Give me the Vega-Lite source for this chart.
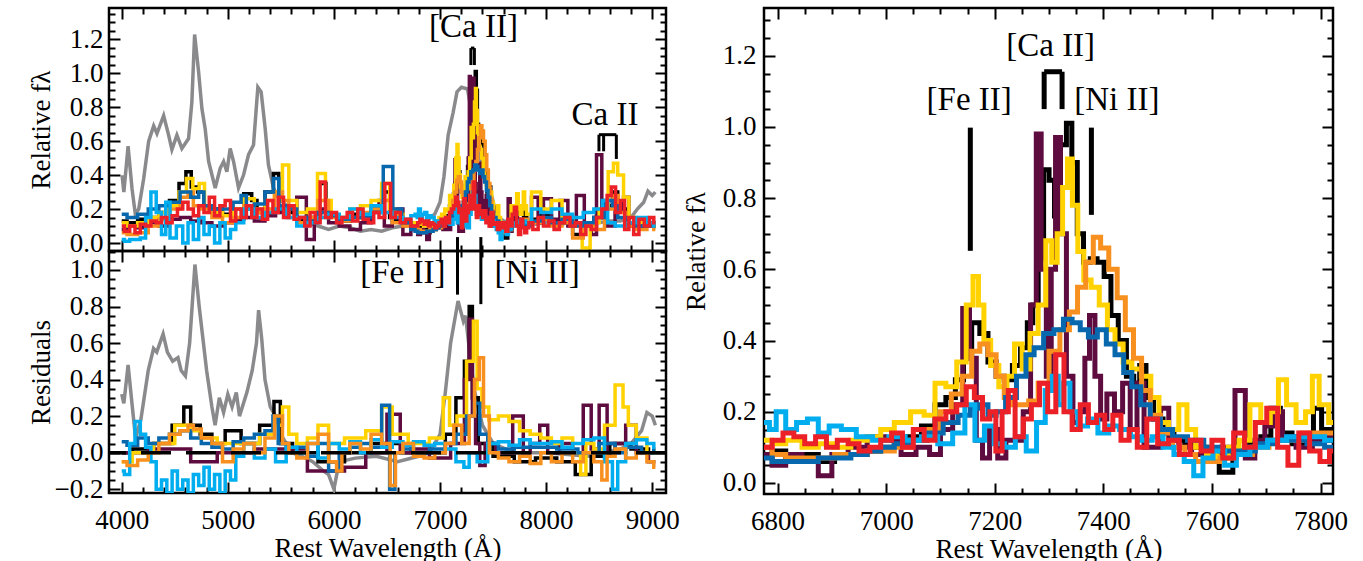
{
"$schema": "https://vega.github.io/schema/vega-lite/v6.json",
"padding": {"left": 25, "top": 5, "right": 5, "bottom": 0},
"config": {
  "view": {"stroke": "black", "strokeWidth": 2.5},
  "font": "Liberation Serif",
  "axis": {"domain": false, "grid": false, "labelFont": "Liberation Serif", "labelFontSize": 27, "labelColor": "black", "titleFont": "Liberation Serif", "titleFontSize": 27, "titleFontWeight": "normal", "titleColor": "black", "tickColor": "black", "tickWidth": 2, "labelOverlap": false, "labelFlush": false}
},
"datasets": {
"spec": [
{"s":"g","x":4003,"y":0.4},{"s":"g","x":4020,"y":0.3},{"s":"g","x":4060,"y":0.57},{"s":"g","x":4097,"y":0.32},{"s":"g","x":4128,"y":0.17},{"s":"g","x":4160,"y":0.2},{"s":"g","x":4207,"y":0.38},{"s":"g","x":4254,"y":0.6},{"s":"g","x":4301,"y":0.69},{"s":"g","x":4332,"y":0.645},{"s":"g","x":4395,"y":0.75},{"s":"g","x":4442,"y":0.635},{"s":"g","x":4473,"y":0.55},{"s":"g","x":4520,"y":0.635},{"s":"g","x":4567,"y":0.557},{"s":"g","x":4630,"y":0.615},{"s":"g","x":4661,"y":0.83},{"s":"g","x":4687,"y":1.228},{"s":"g","x":4725,"y":1.005},{"s":"g","x":4756,"y":0.79},{"s":"g","x":4787,"y":0.67},{"s":"g","x":4819,"y":0.48},{"s":"g","x":4881,"y":0.324},{"s":"g","x":4928,"y":0.44},{"s":"g","x":4960,"y":0.48},{"s":"g","x":4991,"y":0.42},{"s":"g","x":5022,"y":0.557},{"s":"g","x":5054,"y":0.48},{"s":"g","x":5101,"y":0.324},{"s":"g","x":5148,"y":0.4},{"s":"g","x":5195,"y":0.52},{"s":"g","x":5242,"y":0.577},{"s":"g","x":5283,"y":0.917},{"s":"g","x":5314,"y":0.89},{"s":"g","x":5352,"y":0.674},{"s":"g","x":5383,"y":0.46},{"s":"g","x":5430,"y":0.324},{"s":"g","x":5477,"y":0.266},{"s":"g","x":5571,"y":0.21},{"s":"g","x":5650,"y":0.15},{"s":"g","x":5750,"y":0.12},{"s":"g","x":5850,"y":0.1},{"s":"g","x":5950,"y":0.08},{"s":"g","x":6050,"y":0.1},{"s":"g","x":6150,"y":0.09},{"s":"g","x":6250,"y":0.07},{"s":"g","x":6350,"y":0.08},{"s":"g","x":6450,"y":0.07},{"s":"g","x":6550,"y":0.09},{"s":"g","x":6650,"y":0.1},{"s":"g","x":6750,"y":0.1},{"s":"g","x":6850,"y":0.12},{"s":"g","x":6950,"y":0.17},{"s":"g","x":7000,"y":0.24},{"s":"g","x":7037,"y":0.39},{"s":"g","x":7077,"y":0.636},{"s":"g","x":7124,"y":0.77},{"s":"g","x":7160,"y":0.89},{"s":"g","x":7202,"y":0.917},{"s":"g","x":7259,"y":0.907},{"s":"g","x":7281,"y":0.83},{"s":"g","x":7320,"y":0.7},{"s":"g","x":7360,"y":0.55},{"s":"g","x":7400,"y":0.45},{"s":"g","x":7440,"y":0.37},{"s":"g","x":7485,"y":0.285},{"s":"g","x":7532,"y":0.16},{"s":"g","x":7600,"y":0.13},{"s":"g","x":7700,"y":0.12},{"s":"g","x":7800,"y":0.12},{"s":"g","x":7900,"y":0.11},{"s":"g","x":8000,"y":0.12},{"s":"g","x":8100,"y":0.1},{"s":"g","x":8200,"y":0.12},{"s":"g","x":8300,"y":0.1},{"s":"g","x":8400,"y":0.11},{"s":"g","x":8500,"y":0.12},{"s":"g","x":8600,"y":0.13},{"s":"g","x":8700,"y":0.13},{"s":"g","x":8800,"y":0.15},{"s":"g","x":8860,"y":0.2},{"s":"g","x":8920,"y":0.24},{"s":"g","x":8960,"y":0.305},{"s":"g","x":9000,"y":0.28},{"s":"g","x":9030,"y":0.3},
{"s":"k","x":4000,"y":0.13},{"s":"k","x":4100,"y":0.12},{"s":"k","x":4200,"y":0.14},{"s":"k","x":4300,"y":0.15},{"s":"k","x":4400,"y":0.18},{"s":"k","x":4500,"y":0.25},{"s":"k","x":4580,"y":0.35},{"s":"k","x":4630,"y":0.42},{"s":"k","x":4680,"y":0.33},{"s":"k","x":4750,"y":0.3},{"s":"k","x":4800,"y":0.22},{"s":"k","x":4900,"y":0.2},{"s":"k","x":5000,"y":0.17},{"s":"k","x":5100,"y":0.2},{"s":"k","x":5200,"y":0.29},{"s":"k","x":5250,"y":0.25},{"s":"k","x":5300,"y":0.18},{"s":"k","x":5400,"y":0.3},{"s":"k","x":5460,"y":0.41},{"s":"k","x":5500,"y":0.2},{"s":"k","x":5600,"y":0.18},{"s":"k","x":5700,"y":0.14},{"s":"k","x":5800,"y":0.15},{"s":"k","x":5900,"y":0.35},{"s":"k","x":5950,"y":0.2},{"s":"k","x":6000,"y":0.16},{"s":"k","x":6100,"y":0.13},{"s":"k","x":6200,"y":0.17},{"s":"k","x":6300,"y":0.15},{"s":"k","x":6400,"y":0.2},{"s":"k","x":6500,"y":0.3},{"s":"k","x":6550,"y":0.15},{"s":"k","x":6600,"y":0.14},{"s":"k","x":6700,"y":0.12},{"s":"k","x":6750,"y":0.1},
{"s":"k","x":6780,"y":0.08},{"s":"k","x":6800,"y":0.09},{"s":"k","x":6830,"y":0.07},{"s":"k","x":6860,"y":0.08},{"s":"k","x":6890,"y":0.06},{"s":"k","x":6920,"y":0.08},{"s":"k","x":6950,"y":0.08},{"s":"k","x":6980,"y":0.09},{"s":"k","x":7000,"y":0.1},{"s":"k","x":7030,"y":0.11},{"s":"k","x":7050,"y":0.13},{"s":"k","x":7080,"y":0.16},{"s":"k","x":7100,"y":0.22},{"s":"k","x":7120,"y":0.24},{"s":"k","x":7135,"y":0.29},{"s":"k","x":7150,"y":0.35},{"s":"k","x":7165,"y":0.45},{"s":"k","x":7180,"y":0.42},{"s":"k","x":7195,"y":0.34},{"s":"k","x":7210,"y":0.3},{"s":"k","x":7225,"y":0.29},{"s":"k","x":7240,"y":0.33},{"s":"k","x":7255,"y":0.38},{"s":"k","x":7265,"y":0.45},{"s":"k","x":7275,"y":0.5},{"s":"k","x":7285,"y":0.63},{"s":"k","x":7295,"y":0.88},{"s":"k","x":7305,"y":0.85},{"s":"k","x":7315,"y":0.75},{"s":"k","x":7327,"y":0.95},{"s":"k","x":7337,"y":1.01},{"s":"k","x":7347,"y":0.9},{"s":"k","x":7357,"y":0.7},{"s":"k","x":7370,"y":0.62},{"s":"k","x":7382,"y":0.63},{"s":"k","x":7395,"y":0.62},{"s":"k","x":7408,"y":0.58},{"s":"k","x":7420,"y":0.47},{"s":"k","x":7435,"y":0.4},{"s":"k","x":7450,"y":0.3},{"s":"k","x":7462,"y":0.28},{"s":"k","x":7472,"y":0.33},{"s":"k","x":7485,"y":0.24},{"s":"k","x":7500,"y":0.18},{"s":"k","x":7520,"y":0.14},{"s":"k","x":7540,"y":0.12},{"s":"k","x":7560,"y":0.11},{"s":"k","x":7580,"y":0.1},{"s":"k","x":7600,"y":0.08},{"s":"k","x":7627,"y":0.03},{"s":"k","x":7650,"y":0.09},{"s":"k","x":7680,"y":0.11},{"s":"k","x":7700,"y":0.13},{"s":"k","x":7717,"y":0.21},{"s":"k","x":7735,"y":0.14},{"s":"k","x":7760,"y":0.11},{"s":"k","x":7780,"y":0.13},{"s":"k","x":7794,"y":0.21},{"s":"k","x":7810,"y":0.15},{"s":"k","x":7825,"y":0.12},
{"s":"k","x":7900,"y":0.14},{"s":"k","x":8000,"y":0.16},{"s":"k","x":8100,"y":0.12},{"s":"k","x":8200,"y":0.13},{"s":"k","x":8300,"y":0.05},{"s":"k","x":8400,"y":0.12},{"s":"k","x":8500,"y":0.15},{"s":"k","x":8600,"y":0.22},{"s":"k","x":8650,"y":0.3},{"s":"k","x":8700,"y":0.2},{"s":"k","x":8800,"y":0.12},{"s":"k","x":8900,"y":0.1},{"s":"k","x":9000,"y":0.12},{"s":"k","x":9030,"y":0.1},
{"s":"p","x":4000,"y":0.08},{"s":"p","x":4100,"y":0.1},{"s":"p","x":4200,"y":0.09},{"s":"p","x":4300,"y":0.12},{"s":"p","x":4400,"y":0.1},{"s":"p","x":4500,"y":0.14},{"s":"p","x":4600,"y":0.15},{"s":"p","x":4700,"y":0.13},{"s":"p","x":4800,"y":0.12},{"s":"p","x":4900,"y":0.1},{"s":"p","x":5000,"y":0.12},{"s":"p","x":5100,"y":0.14},{"s":"p","x":5200,"y":0.15},{"s":"p","x":5300,"y":0.13},{"s":"p","x":5400,"y":0.16},{"s":"p","x":5500,"y":0.18},{"s":"p","x":5600,"y":0.2},{"s":"p","x":5700,"y":0.27},{"s":"p","x":5780,"y":0.02},{"s":"p","x":5850,"y":0.15},{"s":"p","x":5900,"y":0.2},{"s":"p","x":6000,"y":0.12},{"s":"p","x":6100,"y":0.1},{"s":"p","x":6200,"y":0.08},{"s":"p","x":6300,"y":0.12},{"s":"p","x":6400,"y":0.2},{"s":"p","x":6450,"y":0.25},{"s":"p","x":6500,"y":0.1},{"s":"p","x":6600,"y":0.2},{"s":"p","x":6700,"y":0.05},{"s":"p","x":6750,"y":0.08},
{"s":"p","x":6780,"y":0.08},{"s":"p","x":6800,"y":0.05},{"s":"p","x":6830,"y":0.08},{"s":"p","x":6860,"y":0.06},{"s":"p","x":6890,"y":0.02},{"s":"p","x":6910,"y":0.08},{"s":"p","x":6950,"y":0.1},{"s":"p","x":6980,"y":0.13},{"s":"p","x":7015,"y":0.12},{"s":"p","x":7040,"y":0.08},{"s":"p","x":7070,"y":0.1},{"s":"p","x":7090,"y":0.08},{"s":"p","x":7110,"y":0.15},{"s":"p","x":7135,"y":0.22},{"s":"p","x":7147,"y":0.49},{"s":"p","x":7160,"y":0.35},{"s":"p","x":7172,"y":0.12},{"s":"p","x":7183,"y":0.07},{"s":"p","x":7198,"y":0.15},{"s":"p","x":7213,"y":0.07},{"s":"p","x":7228,"y":0.12},{"s":"p","x":7245,"y":0.12},{"s":"p","x":7260,"y":0.2},{"s":"p","x":7272,"y":0.5},{"s":"p","x":7281,"y":0.98},{"s":"p","x":7290,"y":0.6},{"s":"p","x":7300,"y":0.3},{"s":"p","x":7308,"y":0.6},{"s":"p","x":7316,"y":0.97},{"s":"p","x":7326,"y":0.7},{"s":"p","x":7338,"y":0.3},{"s":"p","x":7350,"y":0.17},{"s":"p","x":7362,"y":0.2},{"s":"p","x":7370,"y":0.35},{"s":"p","x":7379,"y":0.47},{"s":"p","x":7390,"y":0.3},{"s":"p","x":7400,"y":0.18},{"s":"p","x":7413,"y":0.25},{"s":"p","x":7428,"y":0.2},{"s":"p","x":7443,"y":0.28},{"s":"p","x":7456,"y":0.15},{"s":"p","x":7468,"y":0.28},{"s":"p","x":7482,"y":0.1},{"s":"p","x":7498,"y":0.1},{"s":"p","x":7513,"y":0.21},{"s":"p","x":7528,"y":0.12},{"s":"p","x":7550,"y":0.1},{"s":"p","x":7575,"y":0.08},{"s":"p","x":7605,"y":0.09},{"s":"p","x":7630,"y":0.1},{"s":"p","x":7655,"y":0.26},{"s":"p","x":7668,"y":0.07},{"s":"p","x":7690,"y":0.12},{"s":"p","x":7705,"y":0.16},{"s":"p","x":7720,"y":0.2},{"s":"p","x":7740,"y":0.13},{"s":"p","x":7770,"y":0.1},{"s":"p","x":7800,"y":0.12},{"s":"p","x":7825,"y":0.13},
{"s":"p","x":7900,"y":0.27},{"s":"p","x":7950,"y":0.12},{"s":"p","x":8000,"y":0.26},{"s":"p","x":8100,"y":0.14},{"s":"p","x":8160,"y":0.25},{"s":"p","x":8250,"y":0.1},{"s":"p","x":8320,"y":0.28},{"s":"p","x":8400,"y":0.1},{"s":"p","x":8450,"y":0.05},{"s":"p","x":8500,"y":0.52},{"s":"p","x":8550,"y":0.15},{"s":"p","x":8600,"y":0.1},{"s":"p","x":8700,"y":0.2},{"s":"p","x":8760,"y":0.27},{"s":"p","x":8800,"y":0.1},{"s":"p","x":8900,"y":0.12},{"s":"p","x":9000,"y":0.1},{"s":"p","x":9030,"y":0.12},
{"s":"y","x":4000,"y":0.12},{"s":"y","x":4100,"y":0.1},{"s":"y","x":4200,"y":0.12},{"s":"y","x":4300,"y":0.15},{"s":"y","x":4400,"y":0.18},{"s":"y","x":4500,"y":0.22},{"s":"y","x":4580,"y":0.3},{"s":"y","x":4640,"y":0.38},{"s":"y","x":4700,"y":0.32},{"s":"y","x":4760,"y":0.35},{"s":"y","x":4800,"y":0.22},{"s":"y","x":4900,"y":0.18},{"s":"y","x":5000,"y":0.16},{"s":"y","x":5100,"y":0.2},{"s":"y","x":5200,"y":0.26},{"s":"y","x":5300,"y":0.2},{"s":"y","x":5400,"y":0.25},{"s":"y","x":5480,"y":0.3},{"s":"y","x":5550,"y":0.46},{"s":"y","x":5600,"y":0.25},{"s":"y","x":5700,"y":0.18},{"s":"y","x":5800,"y":0.2},{"s":"y","x":5890,"y":0.41},{"s":"y","x":5950,"y":0.25},{"s":"y","x":6000,"y":0.16},{"s":"y","x":6100,"y":0.15},{"s":"y","x":6200,"y":0.2},{"s":"y","x":6300,"y":0.22},{"s":"y","x":6400,"y":0.25},{"s":"y","x":6500,"y":0.35},{"s":"y","x":6550,"y":0.2},{"s":"y","x":6600,"y":0.17},{"s":"y","x":6700,"y":0.13},{"s":"y","x":6750,"y":0.12},
{"s":"y","x":6780,"y":0.12},{"s":"y","x":6800,"y":0.11},{"s":"y","x":6830,"y":0.12},{"s":"y","x":6860,"y":0.1},{"s":"y","x":6890,"y":0.11},{"s":"y","x":6920,"y":0.1},{"s":"y","x":6950,"y":0.12},{"s":"y","x":6980,"y":0.13},{"s":"y","x":7000,"y":0.15},{"s":"y","x":7030,"y":0.17},{"s":"y","x":7060,"y":0.2},{"s":"y","x":7080,"y":0.19},{"s":"y","x":7100,"y":0.28},{"s":"y","x":7120,"y":0.27},{"s":"y","x":7140,"y":0.34},{"s":"y","x":7155,"y":0.5},{"s":"y","x":7165,"y":0.58},{"s":"y","x":7175,"y":0.5},{"s":"y","x":7185,"y":0.4},{"s":"y","x":7200,"y":0.33},{"s":"y","x":7215,"y":0.27},{"s":"y","x":7230,"y":0.3},{"s":"y","x":7243,"y":0.39},{"s":"y","x":7258,"y":0.32},{"s":"y","x":7272,"y":0.42},{"s":"y","x":7288,"y":0.5},{"s":"y","x":7300,"y":0.68},{"s":"y","x":7310,"y":0.62},{"s":"y","x":7320,"y":0.7},{"s":"y","x":7330,"y":0.83},{"s":"y","x":7338,"y":0.91},{"s":"y","x":7348,"y":0.78},{"s":"y","x":7358,"y":0.65},{"s":"y","x":7370,"y":0.57},{"s":"y","x":7385,"y":0.55},{"s":"y","x":7400,"y":0.5},{"s":"y","x":7415,"y":0.43},{"s":"y","x":7428,"y":0.39},{"s":"y","x":7445,"y":0.34},{"s":"y","x":7460,"y":0.32},{"s":"y","x":7480,"y":0.3},{"s":"y","x":7495,"y":0.24},{"s":"y","x":7510,"y":0.17},{"s":"y","x":7530,"y":0.15},{"s":"y","x":7548,"y":0.22},{"s":"y","x":7560,"y":0.15},{"s":"y","x":7580,"y":0.1},{"s":"y","x":7600,"y":0.08},{"s":"y","x":7620,"y":0.07},{"s":"y","x":7640,"y":0.1},{"s":"y","x":7660,"y":0.12},{"s":"y","x":7680,"y":0.22},{"s":"y","x":7700,"y":0.17},{"s":"y","x":7715,"y":0.2},{"s":"y","x":7730,"y":0.29},{"s":"y","x":7745,"y":0.22},{"s":"y","x":7765,"y":0.17},{"s":"y","x":7780,"y":0.2},{"s":"y","x":7790,"y":0.3},{"s":"y","x":7805,"y":0.22},{"s":"y","x":7825,"y":0.17},
{"s":"y","x":7900,"y":0.3},{"s":"y","x":8000,"y":0.2},{"s":"y","x":8100,"y":0.25},{"s":"y","x":8200,"y":0.15},{"s":"y","x":8300,"y":0.1},{"s":"y","x":8380,"y":-0.03},{"s":"y","x":8450,"y":0.12},{"s":"y","x":8550,"y":0.2},{"s":"y","x":8620,"y":0.42},{"s":"y","x":8650,"y":0.47},{"s":"y","x":8700,"y":0.4},{"s":"y","x":8760,"y":0.27},{"s":"y","x":8800,"y":0.15},{"s":"y","x":8900,"y":0.12},{"s":"y","x":9000,"y":0.1},{"s":"y","x":9030,"y":0.12},
{"s":"o","x":4000,"y":0.06},{"s":"o","x":4100,"y":0.05},{"s":"o","x":4200,"y":0.06},{"s":"o","x":4300,"y":0.1},{"s":"o","x":4400,"y":0.14},{"s":"o","x":4500,"y":0.2},{"s":"o","x":4600,"y":0.27},{"s":"o","x":4650,"y":0.3},{"s":"o","x":4700,"y":0.22},{"s":"o","x":4800,"y":0.2},{"s":"o","x":4900,"y":0.15},{"s":"o","x":5000,"y":0.12},{"s":"o","x":5100,"y":0.15},{"s":"o","x":5200,"y":0.22},{"s":"o","x":5300,"y":0.18},{"s":"o","x":5400,"y":0.2},{"s":"o","x":5480,"y":0.3},{"s":"o","x":5550,"y":0.25},{"s":"o","x":5600,"y":0.15},{"s":"o","x":5700,"y":0.12},{"s":"o","x":5800,"y":0.15},{"s":"o","x":5900,"y":0.25},{"s":"o","x":6000,"y":0.15},{"s":"o","x":6100,"y":0.13},{"s":"o","x":6200,"y":0.15},{"s":"o","x":6300,"y":0.18},{"s":"o","x":6400,"y":0.2},{"s":"o","x":6500,"y":0.25},{"s":"o","x":6600,"y":0.12},{"s":"o","x":6700,"y":0.1},{"s":"o","x":6750,"y":0.1},
{"s":"o","x":6780,"y":0.1},{"s":"o","x":6800,"y":0.08},{"s":"o","x":6830,"y":0.07},{"s":"o","x":6860,"y":0.07},{"s":"o","x":6890,"y":0.07},{"s":"o","x":6920,"y":0.08},{"s":"o","x":6950,"y":0.08},{"s":"o","x":6980,"y":0.09},{"s":"o","x":7000,"y":0.09},{"s":"o","x":7030,"y":0.1},{"s":"o","x":7060,"y":0.12},{"s":"o","x":7090,"y":0.15},{"s":"o","x":7110,"y":0.2},{"s":"o","x":7130,"y":0.25},{"s":"o","x":7150,"y":0.3},{"s":"o","x":7165,"y":0.37},{"s":"o","x":7180,"y":0.39},{"s":"o","x":7195,"y":0.36},{"s":"o","x":7210,"y":0.3},{"s":"o","x":7225,"y":0.24},{"s":"o","x":7240,"y":0.22},{"s":"o","x":7255,"y":0.22},{"s":"o","x":7270,"y":0.23},{"s":"o","x":7290,"y":0.28},{"s":"o","x":7310,"y":0.37},{"s":"o","x":7330,"y":0.43},{"s":"o","x":7345,"y":0.48},{"s":"o","x":7360,"y":0.55},{"s":"o","x":7375,"y":0.62},{"s":"o","x":7388,"y":0.69},{"s":"o","x":7402,"y":0.66},{"s":"o","x":7418,"y":0.6},{"s":"o","x":7433,"y":0.52},{"s":"o","x":7448,"y":0.43},{"s":"o","x":7463,"y":0.35},{"s":"o","x":7478,"y":0.26},{"s":"o","x":7495,"y":0.19},{"s":"o","x":7515,"y":0.14},{"s":"o","x":7540,"y":0.1},{"s":"o","x":7560,"y":0.08},{"s":"o","x":7580,"y":0.06},{"s":"o","x":7600,"y":0.06},{"s":"o","x":7630,"y":0.07},{"s":"o","x":7660,"y":0.08},{"s":"o","x":7690,"y":0.1},{"s":"o","x":7720,"y":0.12},{"s":"o","x":7750,"y":0.12},{"s":"o","x":7780,"y":0.14},{"s":"o","x":7800,"y":0.14},{"s":"o","x":7825,"y":0.14},
{"s":"o","x":7900,"y":0.12},{"s":"o","x":8000,"y":0.14},{"s":"o","x":8100,"y":0.1},{"s":"o","x":8200,"y":0.12},{"s":"o","x":8300,"y":0.03},{"s":"o","x":8400,"y":0.1},{"s":"o","x":8500,"y":0.08},{"s":"o","x":8600,"y":0.2},{"s":"o","x":8660,"y":0.28},{"s":"o","x":8700,"y":0.18},{"s":"o","x":8800,"y":0.1},{"s":"o","x":8900,"y":0.08},{"s":"o","x":9000,"y":0.1},{"s":"o","x":9030,"y":0.08},
{"s":"b","x":4000,"y":0.17},{"s":"b","x":4100,"y":0.15},{"s":"b","x":4200,"y":0.17},{"s":"b","x":4300,"y":0.2},{"s":"b","x":4400,"y":0.22},{"s":"b","x":4500,"y":0.24},{"s":"b","x":4600,"y":0.3},{"s":"b","x":4700,"y":0.27},{"s":"b","x":4750,"y":0.3},{"s":"b","x":4800,"y":0.22},{"s":"b","x":4900,"y":0.2},{"s":"b","x":5000,"y":0.2},{"s":"b","x":5100,"y":0.24},{"s":"b","x":5150,"y":0.28},{"s":"b","x":5200,"y":0.2},{"s":"b","x":5300,"y":0.23},{"s":"b","x":5400,"y":0.3},{"s":"b","x":5460,"y":0.38},{"s":"b","x":5500,"y":0.22},{"s":"b","x":5600,"y":0.2},{"s":"b","x":5700,"y":0.15},{"s":"b","x":5800,"y":0.13},{"s":"b","x":5900,"y":0.18},{"s":"b","x":6000,"y":0.16},{"s":"b","x":6100,"y":0.14},{"s":"b","x":6200,"y":0.15},{"s":"b","x":6300,"y":0.15},{"s":"b","x":6400,"y":0.18},{"s":"b","x":6530,"y":0.45},{"s":"b","x":6580,"y":0.2},{"s":"b","x":6700,"y":0.12},{"s":"b","x":6750,"y":0.08},
{"s":"b","x":6780,"y":0.07},{"s":"b","x":6800,"y":0.06},{"s":"b","x":6830,"y":0.06},{"s":"b","x":6860,"y":0.06},{"s":"b","x":6890,"y":0.07},{"s":"b","x":6920,"y":0.07},{"s":"b","x":6950,"y":0.08},{"s":"b","x":6980,"y":0.09},{"s":"b","x":7000,"y":0.1},{"s":"b","x":7030,"y":0.11},{"s":"b","x":7060,"y":0.12},{"s":"b","x":7090,"y":0.14},{"s":"b","x":7120,"y":0.17},{"s":"b","x":7145,"y":0.19},{"s":"b","x":7165,"y":0.21},{"s":"b","x":7180,"y":0.22},{"s":"b","x":7195,"y":0.19},{"s":"b","x":7210,"y":0.2},{"s":"b","x":7230,"y":0.24},{"s":"b","x":7250,"y":0.3},{"s":"b","x":7265,"y":0.36},{"s":"b","x":7280,"y":0.38},{"s":"b","x":7300,"y":0.42},{"s":"b","x":7318,"y":0.43},{"s":"b","x":7335,"y":0.46},{"s":"b","x":7350,"y":0.45},{"s":"b","x":7365,"y":0.43},{"s":"b","x":7380,"y":0.41},{"s":"b","x":7398,"y":0.43},{"s":"b","x":7413,"y":0.39},{"s":"b","x":7430,"y":0.36},{"s":"b","x":7445,"y":0.31},{"s":"b","x":7460,"y":0.27},{"s":"b","x":7478,"y":0.22},{"s":"b","x":7495,"y":0.18},{"s":"b","x":7515,"y":0.15},{"s":"b","x":7540,"y":0.13},{"s":"b","x":7570,"y":0.12},{"s":"b","x":7600,"y":0.1},{"s":"b","x":7630,"y":0.09},{"s":"b","x":7660,"y":0.09},{"s":"b","x":7700,"y":0.11},{"s":"b","x":7730,"y":0.12},{"s":"b","x":7760,"y":0.12},{"s":"b","x":7790,"y":0.11},{"s":"b","x":7825,"y":0.1},
{"s":"b","x":7900,"y":0.13},{"s":"b","x":8000,"y":0.15},{"s":"b","x":8100,"y":0.12},{"s":"b","x":8200,"y":0.14},{"s":"b","x":8300,"y":0.1},{"s":"b","x":8400,"y":0.12},{"s":"b","x":8500,"y":0.15},{"s":"b","x":8600,"y":0.25},{"s":"b","x":8650,"y":0.22},{"s":"b","x":8700,"y":0.15},{"s":"b","x":8800,"y":0.12},{"s":"b","x":8900,"y":0.1},{"s":"b","x":9000,"y":0.1},{"s":"b","x":9030,"y":0.1},
{"s":"c","x":4000,"y":0.02},{"s":"c","x":4050,"y":0.01},{"s":"c","x":4100,"y":0.02},{"s":"c","x":4150,"y":0.02},{"s":"c","x":4200,"y":0.03},{"s":"c","x":4250,"y":0.15},{"s":"c","x":4300,"y":0.3},{"s":"c","x":4350,"y":0.18},{"s":"c","x":4400,"y":0.05},{"s":"c","x":4430,"y":0.24},{"s":"c","x":4480,"y":0.03},{"s":"c","x":4550,"y":0.1},{"s":"c","x":4600,"y":0.0},{"s":"c","x":4650,"y":0.12},{"s":"c","x":4700,"y":0.02},{"s":"c","x":4750,"y":0.15},{"s":"c","x":4800,"y":0.05},{"s":"c","x":4850,"y":0.1},{"s":"c","x":4900,"y":0.0},{"s":"c","x":4950,"y":0.12},{"s":"c","x":5000,"y":0.03},{"s":"c","x":5050,"y":0.08},{"s":"c","x":5100,"y":0.12},{"s":"c","x":5200,"y":0.2},{"s":"c","x":5300,"y":0.15},{"s":"c","x":5400,"y":0.18},{"s":"c","x":5500,"y":0.2},{"s":"c","x":5600,"y":0.15},{"s":"c","x":5700,"y":0.1},{"s":"c","x":5800,"y":0.12},{"s":"c","x":5900,"y":0.15},{"s":"c","x":6000,"y":0.17},{"s":"c","x":6100,"y":0.15},{"s":"c","x":6200,"y":0.2},{"s":"c","x":6300,"y":0.17},{"s":"c","x":6400,"y":0.22},{"s":"c","x":6500,"y":0.18},{"s":"c","x":6600,"y":0.15},{"s":"c","x":6700,"y":0.14},{"s":"c","x":6750,"y":0.16},
{"s":"c","x":6780,"y":0.17},{"s":"c","x":6790,"y":0.15},{"s":"c","x":6805,"y":0.2},{"s":"c","x":6825,"y":0.15},{"s":"c","x":6845,"y":0.17},{"s":"c","x":6865,"y":0.18},{"s":"c","x":6885,"y":0.14},{"s":"c","x":6905,"y":0.16},{"s":"c","x":6930,"y":0.15},{"s":"c","x":6960,"y":0.13},{"s":"c","x":6990,"y":0.12},{"s":"c","x":7020,"y":0.13},{"s":"c","x":7050,"y":0.12},{"s":"c","x":7080,"y":0.13},{"s":"c","x":7110,"y":0.11},{"s":"c","x":7135,"y":0.14},{"s":"c","x":7155,"y":0.22},{"s":"c","x":7172,"y":0.12},{"s":"c","x":7190,"y":0.16},{"s":"c","x":7208,"y":0.11},{"s":"c","x":7228,"y":0.1},{"s":"c","x":7248,"y":0.13},{"s":"c","x":7268,"y":0.09},{"s":"c","x":7286,"y":0.17},{"s":"c","x":7300,"y":0.26},{"s":"c","x":7312,"y":0.3},{"s":"c","x":7322,"y":0.22},{"s":"c","x":7332,"y":0.28},{"s":"c","x":7345,"y":0.2},{"s":"c","x":7362,"y":0.16},{"s":"c","x":7380,"y":0.18},{"s":"c","x":7400,"y":0.14},{"s":"c","x":7420,"y":0.16},{"s":"c","x":7440,"y":0.15},{"s":"c","x":7460,"y":0.13},{"s":"c","x":7480,"y":0.12},{"s":"c","x":7500,"y":0.13},{"s":"c","x":7520,"y":0.1},{"s":"c","x":7540,"y":0.08},{"s":"c","x":7558,"y":0.06},{"s":"c","x":7575,"y":0.02},{"s":"c","x":7592,"y":0.07},{"s":"c","x":7612,"y":0.09},{"s":"c","x":7635,"y":0.05},{"s":"c","x":7655,"y":0.08},{"s":"c","x":7685,"y":0.1},{"s":"c","x":7720,"y":0.12},{"s":"c","x":7755,"y":0.13},{"s":"c","x":7790,"y":0.13},{"s":"c","x":7825,"y":0.12},
{"s":"c","x":7900,"y":0.2},{"s":"c","x":8000,"y":0.18},{"s":"c","x":8100,"y":0.2},{"s":"c","x":8200,"y":0.17},{"s":"c","x":8300,"y":0.15},{"s":"c","x":8400,"y":0.18},{"s":"c","x":8500,"y":0.2},{"s":"c","x":8560,"y":0.25},{"s":"c","x":8600,"y":0.12},{"s":"c","x":8700,"y":0.1},{"s":"c","x":8800,"y":0.12},{"s":"c","x":8900,"y":0.15},{"s":"c","x":9000,"y":0.12},{"s":"c","x":9030,"y":0.1},
{"s":"r","x":4000,"y":0.1},{"s":"r","x":4050,"y":0.07},{"s":"r","x":4100,"y":0.1},{"s":"r","x":4150,"y":0.06},{"s":"r","x":4200,"y":0.11},{"s":"r","x":4250,"y":0.1},{"s":"r","x":4300,"y":0.13},{"s":"r","x":4350,"y":0.12},{"s":"r","x":4400,"y":0.15},{"s":"r","x":4450,"y":0.12},{"s":"r","x":4500,"y":0.16},{"s":"r","x":4550,"y":0.2},{"s":"r","x":4600,"y":0.24},{"s":"r","x":4650,"y":0.2},{"s":"r","x":4700,"y":0.16},{"s":"r","x":4750,"y":0.22},{"s":"r","x":4800,"y":0.18},{"s":"r","x":4850,"y":0.27},{"s":"r","x":4900,"y":0.16},{"s":"r","x":4950,"y":0.22},{"s":"r","x":5000,"y":0.25},{"s":"r","x":5050,"y":0.13},{"s":"r","x":5100,"y":0.2},{"s":"r","x":5150,"y":0.15},{"s":"r","x":5200,"y":0.22},{"s":"r","x":5250,"y":0.15},{"s":"r","x":5300,"y":0.2},{"s":"r","x":5350,"y":0.14},{"s":"r","x":5400,"y":0.25},{"s":"r","x":5450,"y":0.18},{"s":"r","x":5500,"y":0.27},{"s":"r","x":5550,"y":0.15},{"s":"r","x":5600,"y":0.22},{"s":"r","x":5650,"y":0.14},{"s":"r","x":5700,"y":0.15},{"s":"r","x":5750,"y":0.1},{"s":"r","x":5800,"y":0.18},{"s":"r","x":5850,"y":0.12},{"s":"r","x":5890,"y":0.36},{"s":"r","x":5950,"y":0.15},{"s":"r","x":6000,"y":0.18},{"s":"r","x":6050,"y":0.12},{"s":"r","x":6100,"y":0.15},{"s":"r","x":6150,"y":0.18},{"s":"r","x":6200,"y":0.13},{"s":"r","x":6250,"y":0.2},{"s":"r","x":6300,"y":0.14},{"s":"r","x":6350,"y":0.12},{"s":"r","x":6400,"y":0.18},{"s":"r","x":6450,"y":0.15},{"s":"r","x":6510,"y":0.35},{"s":"r","x":6560,"y":0.15},{"s":"r","x":6600,"y":0.18},{"s":"r","x":6650,"y":0.12},{"s":"r","x":6700,"y":0.14},{"s":"r","x":6750,"y":0.1},
{"s":"r","x":6780,"y":0.1},{"s":"r","x":6800,"y":0.12},{"s":"r","x":6820,"y":0.14},{"s":"r","x":6840,"y":0.13},{"s":"r","x":6860,"y":0.11},{"s":"r","x":6880,"y":0.13},{"s":"r","x":6900,"y":0.1},{"s":"r","x":6920,"y":0.12},{"s":"r","x":6940,"y":0.11},{"s":"r","x":6960,"y":0.09},{"s":"r","x":6980,"y":0.1},{"s":"r","x":7000,"y":0.12},{"s":"r","x":7020,"y":0.14},{"s":"r","x":7040,"y":0.1},{"s":"r","x":7060,"y":0.15},{"s":"r","x":7080,"y":0.12},{"s":"r","x":7100,"y":0.18},{"s":"r","x":7120,"y":0.2},{"s":"r","x":7140,"y":0.22},{"s":"r","x":7155,"y":0.27},{"s":"r","x":7170,"y":0.24},{"s":"r","x":7185,"y":0.18},{"s":"r","x":7197,"y":0.2},{"s":"r","x":7207,"y":0.09},{"s":"r","x":7220,"y":0.2},{"s":"r","x":7230,"y":0.26},{"s":"r","x":7245,"y":0.13},{"s":"r","x":7260,"y":0.18},{"s":"r","x":7275,"y":0.22},{"s":"r","x":7290,"y":0.28},{"s":"r","x":7305,"y":0.2},{"s":"r","x":7320,"y":0.36},{"s":"r","x":7335,"y":0.2},{"s":"r","x":7350,"y":0.15},{"s":"r","x":7365,"y":0.22},{"s":"r","x":7380,"y":0.17},{"s":"r","x":7395,"y":0.19},{"s":"r","x":7410,"y":0.15},{"s":"r","x":7425,"y":0.19},{"s":"r","x":7440,"y":0.12},{"s":"r","x":7455,"y":0.15},{"s":"r","x":7470,"y":0.1},{"s":"r","x":7490,"y":0.18},{"s":"r","x":7510,"y":0.11},{"s":"r","x":7530,"y":0.12},{"s":"r","x":7550,"y":0.08},{"s":"r","x":7570,"y":0.12},{"s":"r","x":7590,"y":0.09},{"s":"r","x":7610,"y":0.12},{"s":"r","x":7630,"y":0.07},{"s":"r","x":7650,"y":0.14},{"s":"r","x":7670,"y":0.1},{"s":"r","x":7690,"y":0.17},{"s":"r","x":7712,"y":0.21},{"s":"r","x":7730,"y":0.1},{"s":"r","x":7750,"y":0.05},{"s":"r","x":7770,"y":0.14},{"s":"r","x":7790,"y":0.09},{"s":"r","x":7808,"y":0.06},{"s":"r","x":7825,"y":0.09},
{"s":"r","x":7850,"y":0.12},{"s":"r","x":7900,"y":0.08},{"s":"r","x":7950,"y":0.15},{"s":"r","x":8000,"y":0.1},{"s":"r","x":8050,"y":0.13},{"s":"r","x":8100,"y":0.08},{"s":"r","x":8150,"y":0.12},{"s":"r","x":8200,"y":0.15},{"s":"r","x":8250,"y":0.1},{"s":"r","x":8300,"y":0.12},{"s":"r","x":8350,"y":0.05},{"s":"r","x":8400,"y":0.1},{"s":"r","x":8450,"y":0.08},{"s":"r","x":8500,"y":0.15},{"s":"r","x":8550,"y":0.2},{"s":"r","x":8600,"y":0.28},{"s":"r","x":8630,"y":0.33},{"s":"r","x":8680,"y":0.18},{"s":"r","x":8720,"y":0.25},{"s":"r","x":8760,"y":0.08},{"s":"r","x":8800,"y":0.15},{"s":"r","x":8850,"y":0.05},{"s":"r","x":8900,"y":0.14},{"s":"r","x":8950,"y":0.1},{"s":"r","x":9000,"y":0.15},{"s":"r","x":9030,"y":0.12}
],
"res": [
{"s":"g","x":4000,"y":0.32},{"s":"g","x":4020,"y":0.27},{"s":"g","x":4060,"y":0.48},{"s":"g","x":4100,"y":0.25},{"s":"g","x":4130,"y":0.08},{"s":"g","x":4180,"y":0.18},{"s":"g","x":4250,"y":0.45},{"s":"g","x":4300,"y":0.57},{"s":"g","x":4330,"y":0.55},{"s":"g","x":4390,"y":0.65},{"s":"g","x":4430,"y":0.55},{"s":"g","x":4480,"y":0.5},{"s":"g","x":4530,"y":0.52},{"s":"g","x":4560,"y":0.45},{"s":"g","x":4600,"y":0.42},{"s":"g","x":4640,"y":0.6},{"s":"g","x":4690,"y":1.03},{"s":"g","x":4730,"y":0.8},{"s":"g","x":4770,"y":0.6},{"s":"g","x":4800,"y":0.45},{"s":"g","x":4850,"y":0.25},{"s":"g","x":4880,"y":0.15},{"s":"g","x":4920,"y":0.3},{"s":"g","x":4960,"y":0.22},{"s":"g","x":5000,"y":0.32},{"s":"g","x":5040,"y":0.25},{"s":"g","x":5080,"y":0.33},{"s":"g","x":5110,"y":0.2},{"s":"g","x":5180,"y":0.33},{"s":"g","x":5230,"y":0.45},{"s":"g","x":5270,"y":0.6},{"s":"g","x":5290,"y":0.78},{"s":"g","x":5320,"y":0.62},{"s":"g","x":5350,"y":0.4},{"s":"g","x":5400,"y":0.25},{"s":"g","x":5450,"y":0.2},{"s":"g","x":5500,"y":0.1},{"s":"g","x":5600,"y":0.0},{"s":"g","x":5700,"y":-0.02},{"s":"g","x":5800,"y":-0.05},{"s":"g","x":5900,"y":-0.1},{"s":"g","x":5950,"y":-0.12},{"s":"g","x":6000,"y":-0.2},{"s":"g","x":6050,"y":-0.05},{"s":"g","x":6200,"y":-0.03},{"s":"g","x":6400,"y":-0.02},{"s":"g","x":6600,"y":-0.05},{"s":"g","x":6800,"y":-0.02},{"s":"g","x":6900,"y":0.0},{"s":"g","x":7000,"y":0.1},{"s":"g","x":7050,"y":0.33},{"s":"g","x":7100,"y":0.6},{"s":"g","x":7170,"y":0.83},{"s":"g","x":7220,"y":0.72},{"s":"g","x":7240,"y":0.75},{"s":"g","x":7280,"y":0.55},{"s":"g","x":7320,"y":0.35},{"s":"g","x":7400,"y":0.15},{"s":"g","x":7500,"y":0.05},{"s":"g","x":7700,"y":0.0},{"s":"g","x":8000,"y":0.0},{"s":"g","x":8400,"y":-0.02},{"s":"g","x":8700,"y":0.02},{"s":"g","x":8800,"y":0.05},{"s":"g","x":8900,"y":0.12},{"s":"g","x":8950,"y":0.22},{"s":"g","x":9000,"y":0.2},{"s":"g","x":9030,"y":0.15},
{"s":"k","x":4000,"y":0.0},{"s":"k","x":4200,"y":0.02},{"s":"k","x":4400,"y":0.05},{"s":"k","x":4550,"y":0.15},{"s":"k","x":4620,"y":0.25},{"s":"k","x":4680,"y":0.15},{"s":"k","x":4800,"y":0.1},{"s":"k","x":4900,"y":0.05},{"s":"k","x":5050,"y":0.12},{"s":"k","x":5200,"y":0.05},{"s":"k","x":5400,"y":0.15},{"s":"k","x":5470,"y":0.28},{"s":"k","x":5520,"y":0.05},{"s":"k","x":5700,"y":0.0},{"s":"k","x":6000,"y":-0.05},{"s":"k","x":6200,"y":0.0},{"s":"k","x":6500,"y":0.05},{"s":"k","x":6800,"y":0.0},{"s":"k","x":7000,"y":0.0},{"s":"k","x":7100,"y":0.1},{"s":"k","x":7200,"y":0.3},{"s":"k","x":7260,"y":0.5},{"s":"k","x":7290,"y":0.8},{"s":"k","x":7320,"y":0.3},{"s":"k","x":7400,"y":0.05},{"s":"k","x":7600,"y":-0.02},{"s":"k","x":7800,"y":-0.05},{"s":"k","x":8000,"y":-0.03},{"s":"k","x":8200,"y":-0.05},{"s":"k","x":8350,"y":-0.12},{"s":"k","x":8500,"y":-0.02},{"s":"k","x":8700,"y":0.05},{"s":"k","x":8900,"y":0.02},{"s":"k","x":9030,"y":0.0},
{"s":"p","x":4000,"y":0.0},{"s":"p","x":4500,"y":0.02},{"s":"p","x":4800,"y":-0.05},{"s":"p","x":5000,"y":0.0},{"s":"p","x":5500,"y":0.02},{"s":"p","x":6000,"y":-0.1},{"s":"p","x":6200,"y":-0.08},{"s":"p","x":6400,"y":0.0},{"s":"p","x":6600,"y":0.21},{"s":"p","x":6650,"y":0.0},{"s":"p","x":6800,"y":0.02},{"s":"p","x":7000,"y":-0.03},{"s":"p","x":7200,"y":0.05},{"s":"p","x":7260,"y":0.4},{"s":"p","x":7290,"y":0.73},{"s":"p","x":7320,"y":0.2},{"s":"p","x":7350,"y":0.05},{"s":"p","x":7400,"y":-0.07},{"s":"p","x":7450,"y":0.05},{"s":"p","x":7600,"y":0.0},{"s":"p","x":7770,"y":0.2},{"s":"p","x":7800,"y":0.0},{"s":"p","x":7900,"y":0.05},{"s":"p","x":7980,"y":0.15},{"s":"p","x":8050,"y":0.0},{"s":"p","x":8200,"y":0.05},{"s":"p","x":8300,"y":0.0},{"s":"p","x":8400,"y":0.26},{"s":"p","x":8450,"y":0.02},{"s":"p","x":8550,"y":0.26},{"s":"p","x":8600,"y":0.0},{"s":"p","x":8700,"y":0.05},{"s":"p","x":8800,"y":0.15},{"s":"p","x":8900,"y":0.0},{"s":"p","x":9030,"y":-0.05},
{"s":"y","x":4000,"y":-0.05},{"s":"y","x":4200,"y":0.0},{"s":"y","x":4400,"y":0.05},{"s":"y","x":4600,"y":0.15},{"s":"y","x":4700,"y":0.12},{"s":"y","x":4800,"y":0.08},{"s":"y","x":5000,"y":0.05},{"s":"y","x":5200,"y":0.05},{"s":"y","x":5400,"y":0.1},{"s":"y","x":5480,"y":0.15},{"s":"y","x":5550,"y":0.25},{"s":"y","x":5600,"y":0.1},{"s":"y","x":5700,"y":0.05},{"s":"y","x":5800,"y":0.08},{"s":"y","x":5900,"y":0.15},{"s":"y","x":6000,"y":0.05},{"s":"y","x":6200,"y":0.08},{"s":"y","x":6400,"y":0.12},{"s":"y","x":6500,"y":0.25},{"s":"y","x":6600,"y":0.1},{"s":"y","x":6800,"y":0.05},{"s":"y","x":7000,"y":0.08},{"s":"y","x":7060,"y":0.3},{"s":"y","x":7120,"y":0.15},{"s":"y","x":7200,"y":0.2},{"s":"y","x":7300,"y":0.5},{"s":"y","x":7330,"y":0.72},{"s":"y","x":7370,"y":0.35},{"s":"y","x":7420,"y":0.25},{"s":"y","x":7500,"y":0.18},{"s":"y","x":7600,"y":0.2},{"s":"y","x":7700,"y":0.17},{"s":"y","x":7800,"y":0.12},{"s":"y","x":7900,"y":0.1},{"s":"y","x":8000,"y":0.08},{"s":"y","x":8100,"y":0.05},{"s":"y","x":8200,"y":0.08},{"s":"y","x":8300,"y":0.0},{"s":"y","x":8350,"y":-0.12},{"s":"y","x":8400,"y":0.05},{"s":"y","x":8500,"y":0.02},{"s":"y","x":8600,"y":0.15},{"s":"y","x":8700,"y":0.37},{"s":"y","x":8750,"y":0.25},{"s":"y","x":8800,"y":0.15},{"s":"y","x":8900,"y":0.08},{"s":"y","x":9000,"y":0.0},{"s":"y","x":9030,"y":0.02},
{"s":"b","x":4000,"y":0.06},{"s":"b","x":4100,"y":0.04},{"s":"b","x":4200,"y":0.08},{"s":"b","x":4300,"y":0.05},{"s":"b","x":4400,"y":0.08},{"s":"b","x":4500,"y":0.1},{"s":"b","x":4600,"y":0.12},{"s":"b","x":4700,"y":0.08},{"s":"b","x":4800,"y":0.05},{"s":"b","x":4900,"y":0.03},{"s":"b","x":5000,"y":0.02},{"s":"b","x":5100,"y":0.06},{"s":"b","x":5200,"y":0.08},{"s":"b","x":5300,"y":0.1},{"s":"b","x":5400,"y":0.12},{"s":"b","x":5450,"y":0.2},{"s":"b","x":5500,"y":0.05},{"s":"b","x":5600,"y":0.0},{"s":"b","x":5700,"y":0.03},{"s":"b","x":5800,"y":-0.02},{"s":"b","x":5900,"y":0.05},{"s":"b","x":6000,"y":-0.1},{"s":"b","x":6100,"y":0.0},{"s":"b","x":6200,"y":0.03},{"s":"b","x":6300,"y":0.05},{"s":"b","x":6400,"y":0.03},{"s":"b","x":6500,"y":0.26},{"s":"b","x":6550,"y":-0.2},{"s":"b","x":6600,"y":0.0},{"s":"b","x":6700,"y":0.02},{"s":"b","x":6800,"y":0.0},{"s":"b","x":7000,"y":0.02},{"s":"b","x":7100,"y":0.05},{"s":"b","x":7200,"y":0.1},{"s":"b","x":7300,"y":0.2},{"s":"b","x":7350,"y":0.27},{"s":"b","x":7400,"y":0.1},{"s":"b","x":7500,"y":0.05},{"s":"b","x":7600,"y":0.02},{"s":"b","x":7800,"y":0.03},{"s":"b","x":8000,"y":0.03},{"s":"b","x":8200,"y":0.02},{"s":"b","x":8400,"y":0.0},{"s":"b","x":8600,"y":0.05},{"s":"b","x":8700,"y":0.0},{"s":"b","x":8800,"y":0.03},{"s":"b","x":9000,"y":0.0},{"s":"b","x":9030,"y":0.02},
{"s":"c","x":4000,"y":-0.1},{"s":"c","x":4050,"y":-0.12},{"s":"c","x":4100,"y":0.05},{"s":"c","x":4150,"y":0.17},{"s":"c","x":4200,"y":0.1},{"s":"c","x":4250,"y":0.03},{"s":"c","x":4300,"y":-0.05},{"s":"c","x":4350,"y":-0.2},{"s":"c","x":4400,"y":-0.15},{"s":"c","x":4450,"y":-0.22},{"s":"c","x":4500,"y":-0.1},{"s":"c","x":4550,"y":-0.2},{"s":"c","x":4600,"y":-0.15},{"s":"c","x":4650,"y":-0.22},{"s":"c","x":4700,"y":-0.12},{"s":"c","x":4750,"y":-0.18},{"s":"c","x":4800,"y":-0.08},{"s":"c","x":4850,"y":-0.2},{"s":"c","x":4900,"y":-0.12},{"s":"c","x":4950,"y":-0.22},{"s":"c","x":5000,"y":-0.1},{"s":"c","x":5050,"y":-0.15},{"s":"c","x":5100,"y":-0.02},{"s":"c","x":5200,"y":0.05},{"s":"c","x":5300,"y":-0.03},{"s":"c","x":5400,"y":0.02},{"s":"c","x":5500,"y":-0.05},{"s":"c","x":5600,"y":0.03},{"s":"c","x":5700,"y":0.0},{"s":"c","x":5800,"y":0.05},{"s":"c","x":5900,"y":-0.03},{"s":"c","x":6000,"y":0.05},{"s":"c","x":6100,"y":0.02},{"s":"c","x":6200,"y":0.06},{"s":"c","x":6300,"y":0.0},{"s":"c","x":6400,"y":0.07},{"s":"c","x":6500,"y":0.03},{"s":"c","x":6600,"y":0.06},{"s":"c","x":6700,"y":0.04},{"s":"c","x":6800,"y":0.06},{"s":"c","x":6900,"y":0.04},{"s":"c","x":7000,"y":0.05},{"s":"c","x":7100,"y":0.02},{"s":"c","x":7200,"y":-0.05},{"s":"c","x":7250,"y":-0.08},{"s":"c","x":7300,"y":0.0},{"s":"c","x":7400,"y":-0.05},{"s":"c","x":7500,"y":0.05},{"s":"c","x":7600,"y":0.06},{"s":"c","x":7700,"y":0.04},{"s":"c","x":7800,"y":0.07},{"s":"c","x":7900,"y":0.05},{"s":"c","x":8000,"y":0.05},{"s":"c","x":8100,"y":0.06},{"s":"c","x":8200,"y":0.03},{"s":"c","x":8300,"y":0.05},{"s":"c","x":8400,"y":0.07},{"s":"c","x":8500,"y":0.08},{"s":"c","x":8600,"y":-0.05},{"s":"c","x":8650,"y":-0.2},{"s":"c","x":8700,"y":-0.05},{"s":"c","x":8800,"y":0.05},{"s":"c","x":8900,"y":0.07},{"s":"c","x":9000,"y":0.05},{"s":"c","x":9030,"y":0.03},
{"s":"o","x":4000,"y":-0.05},{"s":"o","x":4100,"y":-0.07},{"s":"o","x":4200,"y":-0.04},{"s":"o","x":4300,"y":0.0},{"s":"o","x":4400,"y":0.05},{"s":"o","x":4500,"y":0.1},{"s":"o","x":4600,"y":0.12},{"s":"o","x":4650,"y":0.15},{"s":"o","x":4700,"y":0.13},{"s":"o","x":4800,"y":0.08},{"s":"o","x":4900,"y":0.05},{"s":"o","x":5000,"y":-0.05},{"s":"o","x":5100,"y":0.02},{"s":"o","x":5200,"y":0.05},{"s":"o","x":5300,"y":0.0},{"s":"o","x":5400,"y":0.08},{"s":"o","x":5480,"y":0.2},{"s":"o","x":5550,"y":0.05},{"s":"o","x":5600,"y":0.0},{"s":"o","x":5700,"y":-0.03},{"s":"o","x":5800,"y":0.05},{"s":"o","x":5900,"y":0.1},{"s":"o","x":6000,"y":-0.05},{"s":"o","x":6050,"y":-0.1},{"s":"o","x":6100,"y":0.0},{"s":"o","x":6200,"y":0.05},{"s":"o","x":6300,"y":0.02},{"s":"o","x":6400,"y":0.1},{"s":"o","x":6500,"y":0.05},{"s":"o","x":6560,"y":-0.18},{"s":"o","x":6600,"y":0.0},{"s":"o","x":6700,"y":0.05},{"s":"o","x":6800,"y":-0.02},{"s":"o","x":6900,"y":-0.03},{"s":"o","x":7000,"y":0.0},{"s":"o","x":7100,"y":0.05},{"s":"o","x":7160,"y":0.15},{"s":"o","x":7250,"y":0.05},{"s":"o","x":7300,"y":0.2},{"s":"o","x":7350,"y":0.4},{"s":"o","x":7390,"y":0.52},{"s":"o","x":7430,"y":0.2},{"s":"o","x":7500,"y":0.0},{"s":"o","x":7600,"y":-0.03},{"s":"o","x":7700,"y":-0.05},{"s":"o","x":7800,"y":-0.02},{"s":"o","x":7900,"y":-0.06},{"s":"o","x":8000,"y":0.0},{"s":"o","x":8100,"y":-0.05},{"s":"o","x":8200,"y":0.0},{"s":"o","x":8300,"y":-0.05},{"s":"o","x":8400,"y":0.0},{"s":"o","x":8500,"y":-0.05},{"s":"o","x":8550,"y":-0.15},{"s":"o","x":8600,"y":-0.02},{"s":"o","x":8700,"y":0.02},{"s":"o","x":8800,"y":-0.03},{"s":"o","x":8900,"y":0.0},{"s":"o","x":9000,"y":-0.05},{"s":"o","x":9030,"y":-0.08}
],
"ann": [
{"pan":"TL","x":7291,"x2":7291,"y":1.048,"y2":1.148},{"pan":"TL","x":7324,"x2":7324,"y":1.048,"y2":1.148},{"pan":"TL","x":7291,"x2":7324,"y":1.148,"y2":1.148},
{"pan":"TL","x":8498,"x2":8498,"y":0.54,"y2":0.638},{"pan":"TL","x":8542,"x2":8542,"y":0.54,"y2":0.638},{"pan":"TL","x":8662,"x2":8662,"y":0.495,"y2":0.638},{"pan":"TL","x":8498,"x2":8662,"y":0.638,"y2":0.638},
{"pan":"TL","x":7165,"x2":7165,"y":-0.06,"y2":0.035},{"pan":"TL","x":7385,"x2":7385,"y":-0.06,"y2":0.035},
{"pan":"BL","x":7165,"x2":7165,"y":0.865,"y2":1.2},{"pan":"BL","x":7385,"x2":7385,"y":0.813,"y2":1.2},
{"pan":"R","x":7291,"x2":7291,"y":1.05,"y2":1.155},{"pan":"R","x":7324,"x2":7324,"y":1.05,"y2":1.155},{"pan":"R","x":7291,"x2":7324,"y":1.155,"y2":1.155},
{"pan":"R","x":7155,"x2":7155,"y":0.652,"y2":0.998},{"pan":"R","x":7378,"x2":7378,"y":0.753,"y2":0.998}
],
"lab": [
{"pan":"TL","x":7315,"y":1.272,"t":"[Ca II]"},{"pan":"TL","x":8555,"y":0.754,"t":"Ca II"},
{"pan":"BL","x":6650,"y":0.984,"t":"[Fe II]"},{"pan":"BL","x":7916,"y":0.984,"t":"[Ni II]"},
{"pan":"R","x":7303,"y":1.227,"t":"[Ca II]"},{"pan":"R","x":7153,"y":1.076,"t":"[Fe II]"},{"pan":"R","x":7425,"y":1.076,"t":"[Ni II]"}
]
},
"spacing": -1,
"hconcat": [
{
 "spacing": 0,
 "bounds": "flush",
 "vconcat": [
  {
   "width": 557, "height": 243,
   "resolve": {"axis": {"x": "independent", "y": "independent"}},
   "layer": [
    {
     "data": {"name": "spec"},
     "transform": [{"filter": "datum.s === 'g'"}],
     "mark": {"type": "line", "strokeWidth": 3.5, "clip": true, "color": "#8a8a8d"},
     "encoding": {
      "x": {"field": "x", "type": "quantitative", "scale": {"domain": [3880, 9130], "nice": false, "zero": false},
            "axis": {"orient": "bottom", "labels": false, "title": null, "minExtent": 0, "maxExtent": 0, "values": [4000,4200,4400,4600,4800,5000,5200,5400,5600,5800,6000,6200,6400,6600,6800,7000,7200,7400,7600,7800,8000,8200,8400,8600,8800,9000], "tickSize": {"condition": {"test": "datum.value % 1000 === 0", "value": -11}, "value": -6}}},
      "y": {"field": "y", "type": "quantitative", "scale": {"domain": [-0.047, 1.384], "nice": false, "zero": false},
            "axis": {"orient": "left", "title": "Relative fλ", "values": [0,0.05,0.1,0.15,0.2,0.25,0.3,0.35,0.4,0.45,0.5,0.55,0.6,0.65,0.7,0.75,0.8,0.85,0.9,0.95,1,1.05,1.1,1.15,1.2,1.25,1.3,1.35], "format": ".1f", "labelExpr": "abs(round(datum.value*100)) % 20 === 0 ? datum.label : ''", "labelFontSize": {"condition": {"test": "abs(round(datum.value*100)) % 20 === 0", "value": 27}, "value": 0}, "labelPadding": 17, "minExtent": 48, "maxExtent": 48, "titlePadding": 6, "tickSize": {"condition": {"test": "abs(round(datum.value*100)) % 20 === 0", "value": -11}, "value": -6}}}
     }
    },
    {
     "data": {"name": "spec"},
     "transform": [{"filter": "datum.s !== 'g'"}],
     "mark": {"type": "line", "interpolate": "step", "strokeWidth": 3.5, "clip": true},
     "encoding": {
      "x": {"field": "x", "type": "quantitative", "scale": {"domain": [3880, 9130], "nice": false, "zero": false}, "axis": null},
      "y": {"field": "y", "type": "quantitative", "scale": {"domain": [-0.047, 1.384], "nice": false, "zero": false}, "axis": null},
      "color": {"field": "s", "type": "nominal", "scale": {"domain": ["g","k","p","y","o","b","c","r"], "range": ["#8a8a8d","#000000","#5e0b3f","#ffd200","#f7901e","#0868ae","#00adee","#ec2027"]}, "legend": null}
     }
    },
    {
     "data": {"name": "ann"},
     "transform": [{"filter": "datum.pan === 'TL'"}],
     "mark": {"type": "rule", "strokeWidth": 3, "color": "black", "clip": true},
     "encoding": {
      "x": {"field": "x", "type": "quantitative", "scale": {"domain": [3880, 9130], "nice": false, "zero": false},
            "axis": {"orient": "top", "labels": false, "title": null, "minExtent": 0, "maxExtent": 0, "values": [4000,4200,4400,4600,4800,5000,5200,5400,5600,5800,6000,6200,6400,6600,6800,7000,7200,7400,7600,7800,8000,8200,8400,8600,8800,9000], "tickSize": {"condition": {"test": "datum.value % 1000 === 0", "value": -11}, "value": -6}}},
      "x2": {"field": "x2"},
      "y": {"field": "y", "type": "quantitative", "scale": {"domain": [-0.047, 1.384], "nice": false, "zero": false},
            "axis": {"orient": "right", "labels": false, "title": null, "minExtent": 0, "maxExtent": 0, "values": [0,0.05,0.1,0.15,0.2,0.25,0.3,0.35,0.4,0.45,0.5,0.55,0.6,0.65,0.7,0.75,0.8,0.85,0.9,0.95,1,1.05,1.1,1.15,1.2,1.25,1.3,1.35], "tickSize": {"condition": {"test": "abs(round(datum.value*100)) % 20 === 0", "value": -11}, "value": -6}}},
      "y2": {"field": "y2"}
     }
    },
    {
     "data": {"name": "lab"},
     "transform": [{"filter": "datum.pan === 'TL'"}],
     "mark": {"type": "text", "font": "Liberation Serif", "fontSize": 33, "color": "black", "baseline": "middle", "align": "center"},
     "encoding": {
      "x": {"field": "x", "type": "quantitative", "scale": {"domain": [3880, 9130], "nice": false, "zero": false}, "axis": null},
      "y": {"field": "y", "type": "quantitative", "scale": {"domain": [-0.047, 1.384], "nice": false, "zero": false}, "axis": null},
      "text": {"field": "t"}
     }
    }
   ]
  },
  {
   "width": 557, "height": 242,
   "resolve": {"axis": {"x": "independent", "y": "independent"}},
   "layer": [
    {
     "data": {"name": "res"},
     "transform": [{"filter": "datum.s === 'g'"}],
     "mark": {"type": "line", "strokeWidth": 3.5, "clip": true, "color": "#8a8a8d"},
     "encoding": {
      "x": {"field": "x", "type": "quantitative", "scale": {"domain": [3880, 9130], "nice": false, "zero": false},
            "axis": {"orient": "bottom", "title": "Rest Wavelength (Å)", "values": [4000,4200,4400,4600,4800,5000,5200,5400,5600,5800,6000,6200,6400,6600,6800,7000,7200,7400,7600,7800,8000,8200,8400,8600,8800,9000], "format": "d", "labelExpr": "datum.value % 1000 === 0 ? datum.label : ''", "labelFontSize": {"condition": {"test": "datum.value % 1000 === 0", "value": 27}, "value": 0}, "labelPadding": 25, "minExtent": 40, "maxExtent": 40, "titlePadding": 2, "tickSize": {"condition": {"test": "datum.value % 1000 === 0", "value": -11}, "value": -6}}},
      "y": {"field": "y", "type": "quantitative", "scale": {"domain": [-0.221, 1.104], "nice": false, "zero": false},
            "axis": {"orient": "left", "title": "Residuals", "values": [-0.2,-0.15,-0.1,-0.05,0,0.05,0.1,0.15,0.2,0.25,0.3,0.35,0.4,0.45,0.5,0.55,0.6,0.65,0.7,0.75,0.8,0.85,0.9,0.95,1,1.05,1.1], "format": ".1f", "labelExpr": "abs(round(datum.value*100)) % 20 === 0 ? datum.label : ''", "labelFontSize": {"condition": {"test": "abs(round(datum.value*100)) % 20 === 0", "value": 27}, "value": 0}, "labelPadding": 17, "minExtent": 48, "maxExtent": 48, "titlePadding": 6, "tickSize": {"condition": {"test": "abs(round(datum.value*100)) % 20 === 0", "value": -11}, "value": -6}}}
     }
    },
    {
     "data": {"name": "res"},
     "transform": [{"filter": "datum.s !== 'g'"}],
     "mark": {"type": "line", "interpolate": "step", "strokeWidth": 3.5, "clip": true},
     "encoding": {
      "x": {"field": "x", "type": "quantitative", "scale": {"domain": [3880, 9130], "nice": false, "zero": false}, "axis": null},
      "y": {"field": "y", "type": "quantitative", "scale": {"domain": [-0.221, 1.104], "nice": false, "zero": false}, "axis": null},
      "color": {"field": "s", "type": "nominal", "scale": {"domain": ["g","k","p","y","o","b","c","r"], "range": ["#8a8a8d","#000000","#5e0b3f","#ffd200","#f7901e","#0868ae","#00adee","#ec2027"]}, "legend": null}
     }
    },
    {
     "data": {"values": [{"z": 0}]},
     "mark": {"type": "rule", "strokeWidth": 3.5, "color": "black", "strokeDash": [30, 15]},
     "encoding": {
      "y": {"field": "z", "type": "quantitative", "scale": {"domain": [-0.221, 1.104], "nice": false, "zero": false}, "axis": null}
     }
    },
    {
     "data": {"name": "ann"},
     "transform": [{"filter": "datum.pan === 'BL'"}],
     "mark": {"type": "rule", "strokeWidth": 3, "color": "black", "clip": true},
     "encoding": {
      "x": {"field": "x", "type": "quantitative", "scale": {"domain": [3880, 9130], "nice": false, "zero": false},
            "axis": {"orient": "top", "labels": false, "title": null, "minExtent": 0, "maxExtent": 0, "values": [4000,4200,4400,4600,4800,5000,5200,5400,5600,5800,6000,6200,6400,6600,6800,7000,7200,7400,7600,7800,8000,8200,8400,8600,8800,9000], "tickSize": {"condition": {"test": "datum.value % 1000 === 0", "value": -11}, "value": -6}}},
      "x2": {"field": "x2"},
      "y": {"field": "y", "type": "quantitative", "scale": {"domain": [-0.221, 1.104], "nice": false, "zero": false},
            "axis": {"orient": "right", "labels": false, "title": null, "minExtent": 0, "maxExtent": 0, "values": [-0.2,-0.15,-0.1,-0.05,0,0.05,0.1,0.15,0.2,0.25,0.3,0.35,0.4,0.45,0.5,0.55,0.6,0.65,0.7,0.75,0.8,0.85,0.9,0.95,1,1.05,1.1], "tickSize": {"condition": {"test": "abs(round(datum.value*100)) % 20 === 0", "value": -11}, "value": -6}}},
      "y2": {"field": "y2"}
     }
    },
    {
     "data": {"name": "lab"},
     "transform": [{"filter": "datum.pan === 'BL'"}],
     "mark": {"type": "text", "font": "Liberation Serif", "fontSize": 33, "color": "black", "baseline": "middle", "align": "center"},
     "encoding": {
      "x": {"field": "x", "type": "quantitative", "scale": {"domain": [3880, 9130], "nice": false, "zero": false}, "axis": null},
      "y": {"field": "y", "type": "quantitative", "scale": {"domain": [-0.221, 1.104], "nice": false, "zero": false}, "axis": null},
      "text": {"field": "t"}
     }
    }
   ]
  }
 ]
},
{
 "width": 569, "height": 486,
 "resolve": {"axis": {"x": "independent", "y": "independent"}},
 "layer": [
  {
   "data": {"name": "spec"},
   "transform": [{"filter": "datum.s !== 'g' && datum.x >= 6700 && datum.x <= 7900"}],
   "mark": {"type": "line", "interpolate": "step", "strokeWidth": 5, "clip": true},
   "encoding": {
    "x": {"field": "x", "type": "quantitative", "scale": {"domain": [6775, 7823], "nice": false, "zero": false},
          "axis": {"orient": "bottom", "title": "Rest Wavelength (Å)", "values": [6800,6850,6900,6950,7000,7050,7100,7150,7200,7250,7300,7350,7400,7450,7500,7550,7600,7650,7700,7750,7800], "format": "d", "labelExpr": "datum.value % 200 === 0 ? datum.label : ''", "labelFontSize": {"condition": {"test": "datum.value % 200 === 0", "value": 27}, "value": 0}, "labelPadding": 25, "minExtent": 40, "maxExtent": 40, "titlePadding": 2, "tickSize": {"condition": {"test": "datum.value % 200 === 0", "value": -11}, "value": -6}}},
    "y": {"field": "y", "type": "quantitative", "scale": {"domain": [-0.031, 1.334], "nice": false, "zero": false},
          "axis": {"orient": "left", "title": "Relative fλ", "values": [0,0.05,0.1,0.15,0.2,0.25,0.3,0.35,0.4,0.45,0.5,0.55,0.6,0.65,0.7,0.75,0.8,0.85,0.9,0.95,1,1.05,1.1,1.15,1.2,1.25,1.3], "format": ".1f", "labelExpr": "abs(round(datum.value*100)) % 20 === 0 ? datum.label : ''", "labelFontSize": {"condition": {"test": "abs(round(datum.value*100)) % 20 === 0", "value": 27}, "value": 0}, "labelPadding": 19, "minExtent": 48, "maxExtent": 48, "titlePadding": 6, "tickSize": {"condition": {"test": "abs(round(datum.value*100)) % 20 === 0", "value": -11}, "value": -6}}},
    "color": {"field": "s", "type": "nominal", "scale": {"domain": ["g","k","p","y","o","b","c","r"], "range": ["#8a8a8d","#000000","#5e0b3f","#ffd200","#f7901e","#0868ae","#00adee","#ec2027"]}, "legend": null}
   }
  },
  {
   "data": {"name": "ann"},
   "transform": [{"filter": "datum.pan === 'R'"}],
   "mark": {"type": "rule", "strokeWidth": 5, "color": "black", "clip": true},
   "encoding": {
    "x": {"field": "x", "type": "quantitative", "scale": {"domain": [6775, 7823], "nice": false, "zero": false},
          "axis": {"orient": "top", "labels": false, "title": null, "minExtent": 0, "maxExtent": 0, "values": [6800,6850,6900,6950,7000,7050,7100,7150,7200,7250,7300,7350,7400,7450,7500,7550,7600,7650,7700,7750,7800], "tickSize": {"condition": {"test": "datum.value % 200 === 0", "value": -11}, "value": -6}}},
    "x2": {"field": "x2"},
    "y": {"field": "y", "type": "quantitative", "scale": {"domain": [-0.031, 1.334], "nice": false, "zero": false},
          "axis": {"orient": "right", "labels": false, "title": null, "minExtent": 0, "maxExtent": 0, "values": [0,0.05,0.1,0.15,0.2,0.25,0.3,0.35,0.4,0.45,0.5,0.55,0.6,0.65,0.7,0.75,0.8,0.85,0.9,0.95,1,1.05,1.1,1.15,1.2,1.25,1.3], "tickSize": {"condition": {"test": "abs(round(datum.value*100)) % 20 === 0", "value": -11}, "value": -6}}},
    "y2": {"field": "y2"}
   }
  },
  {
   "data": {"name": "lab"},
   "transform": [{"filter": "datum.pan === 'R'"}],
   "mark": {"type": "text", "font": "Liberation Serif", "fontSize": 33, "color": "black", "baseline": "middle", "align": "center"},
   "encoding": {
    "x": {"field": "x", "type": "quantitative", "scale": {"domain": [6775, 7823], "nice": false, "zero": false}, "axis": null},
    "y": {"field": "y", "type": "quantitative", "scale": {"domain": [-0.031, 1.334], "nice": false, "zero": false}, "axis": null},
    "text": {"field": "t"}
   }
  }
 ]
}
]
}
